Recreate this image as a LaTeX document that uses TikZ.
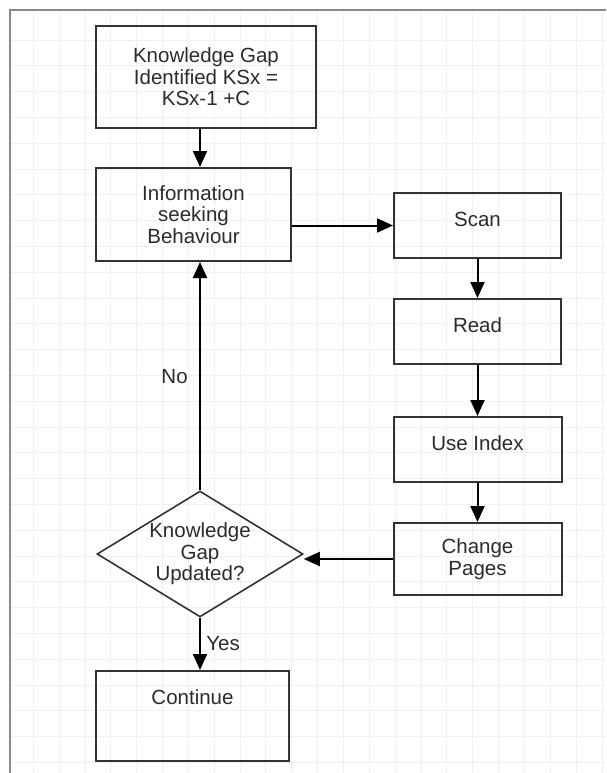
\documentclass[tikz,border=0pt]{standalone}
\usepackage{fontspec}
\setmainfont{Liberation Sans}
\usetikzlibrary{arrows.meta, positioning, shapes.geometric}
\definecolor{lineclr}{HTML}{333333}
\definecolor{txtclr}{HTML}{2B2B2B}
\definecolor{frameclr}{HTML}{8A8A8A}
\definecolor{gridclr}{HTML}{F0F0F0}

\begin{document}
\begin{tikzpicture}[x=1pt, y=1pt, >={Triangle[length=16pt, width=14pt]},
    block/.style={draw=lineclr, line width=2pt, rectangle, align=center, text=txtclr,
        font=\fontsize{20.5}{21.5}\selectfont, inner sep=0pt},
    single/.style={text height=15pt, text depth=13pt},
    decision/.style={draw=lineclr, line width=1.6pt, diamond, aspect=1.635, align=center,
        text=txtclr, font=\fontsize{20.5}{21.5}\selectfont, inner sep=0pt,
        minimum width=206pt, minimum height=126pt},
    link/.style={->, line width=2pt, draw=black},
    lbl/.style={text=txtclr, font=\fontsize{20.5}{21.5}\selectfont}
]
    \useasboundingbox (0,0) rectangle (606,-773);

    % Grid and frame
    \foreach \i in {0,...,22}
        \draw[gridclr, line width=0.8pt] ({33.2+25.85*\i},-10) -- ({33.2+25.85*\i},-773);
    \foreach \j in {0,...,28}
        \draw[gridclr, line width=0.8pt] (10,{-40-25.8*\j}) -- (606,{-40-25.8*\j});
    \draw[frameclr, line width=1.2pt] (10,-773) -- (10,-10) -- (606,-10);

    % Nodes
    \node[block, minimum width=220pt, minimum height=102pt] (gap) at (206,-77)
        {Knowledge Gap\\Identified KSx =\\KSx-1 +C};
    \node[block, minimum width=195pt, minimum height=93pt] (info) at (193.5,-214.5)
        {Information\\seeking\\Behaviour};
    \node[block, single, minimum width=167pt, minimum height=65pt] (scan) at (477.5,-225.5) {Scan};
    \node[block, single, minimum width=167pt, minimum height=65pt, below=39pt of scan] (read) {Read};
    \node[block, single, minimum width=168pt, minimum height=65pt, below=51pt of read] (useidx) {Use Index};
    \node[block, minimum width=168pt, minimum height=72pt, below=39pt of useidx] (chg) {Change\\Pages};
    \node[decision] (dec) at (200,-554) {Knowledge\\Gap\\Updated?};
    \node[block, text height=15pt, text depth=38pt, minimum width=193pt, minimum height=90pt] (cont) at (192.5,-716) {Continue};

    % Lines
    \draw[link] (gap.south -| dec.north) -- (info.north -| dec.north);
    \draw[link] (info.east |- scan.west) -- (scan.west);
    \draw[link] (scan) -- (read);
    \draw[link] (read) -- (useidx);
    \draw[link] (useidx) -- (chg);
    \draw[link] (chg.west) -- (chg.west -| dec.east);
    \draw[link] (dec.north) -- (dec.north |- info.south) node[lbl, midway, left=8pt] {No};
    \draw[link] (dec.south) -- (dec.south |- cont.north) node[lbl, midway, right=2pt] {Yes};
\end{tikzpicture}
\end{document}
